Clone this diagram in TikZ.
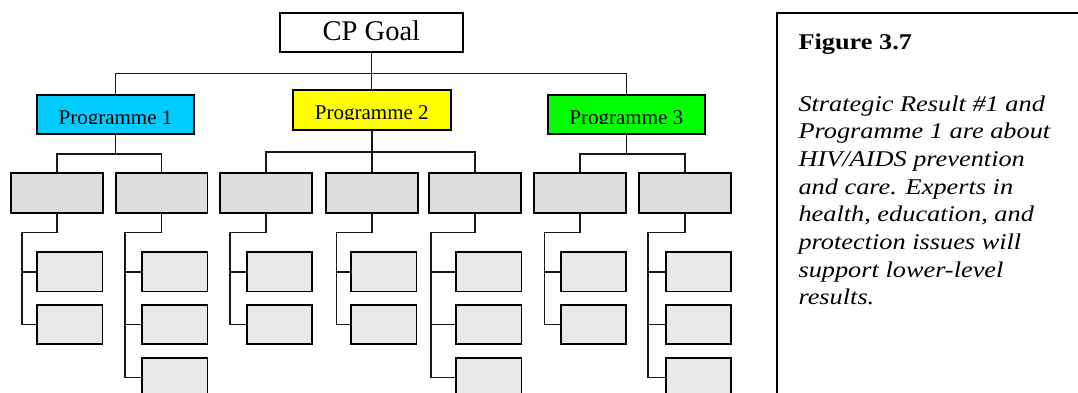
\documentclass[tikz,border=0pt]{standalone}
\usepackage{fontspec}
\setmainfont{Liberation Serif}
\newfontfamily\notefont[FakeStretch=1.17]{Liberation Serif}
\usetikzlibrary{calc}
\definecolor{progblue}{HTML}{00CCFF}
\definecolor{progyellow}{HTML}{FFFF00}
\definecolor{proggreen}{HTML}{00FF00}
\definecolor{midgray}{HTML}{DDDDDD}
\definecolor{leafgray}{HTML}{E8E8E8}
\begin{document}
\begin{tikzpicture}[x=1pt,y=-1pt,
  box/.style={draw=black, line width=1.9pt, inner sep=0pt, outer sep=0pt, anchor=north west},
  midbox/.style={box, fill=midgray, minimum width=91.8pt, minimum height=40pt},
  leafbox/.style={box, fill=leafgray, minimum width=65.5pt, minimum height=39.5pt},
  progbox/.style={box, minimum height=39.3pt},
  link/.style={draw=black!90, line width=1.6pt},
  progtext/.style={font=\fontsize{21}{24}\selectfont, anchor=base, inner sep=0pt},
  noteline/.style={font=\notefont\itshape\fontsize{22.5}{27}\selectfont, anchor=base west, inner sep=0pt}]
\clip (0,0) rectangle (1078,392);

% goal and programme boxes
\node[box, minimum width=183.3pt, minimum height=39pt] (goal) at (280,13.3) {};
\node[font=\fontsize{28.5}{31}\selectfont, anchor=base, inner sep=0pt] (goaltxt) at (371.4,40.9) {CP Goal};

\node[progbox, fill=progblue,   minimum width=157pt]   (p1) at (37,95) {};
\node[progbox, fill=progyellow, minimum width=157.7pt] (p2) at (293,90.3) {};
\node[progbox, fill=proggreen,  minimum width=157.3pt] (p3) at (547.7,95) {};

\foreach \p/\t in {p1/Programme 1, p2/Programme 2, p3/Programme 3}{
  \begin{scope}
    \clip (\p.north west) rectangle ($(\p.north east)+(0,28.8)$);
    \node[progtext] (\p txt) at ($(\p.north)+(0,29.3)$) {\t};
  \end{scope}
}

% goal to programmes
\coordinate (topbar) at (0,73.3);
\draw[link] (goal.south) -- (goal.south |- p2.north);
\draw[link] (p1.north) -- (p1.north |- topbar) -- (p3.north |- topbar) -- (p3.north);

% result boxes with their sub-results
\foreach \i/\bx/\sx/\cx/\n in {1/11/22/37/2, 2/115.7/124.7/142/3, 3/220.3/230/246.7/2,
    4/325.9/336.3/351/2, 5/429.3/431/456/3, 6/534.3/544.3/560.7/2, 7/639/648/665.7/3}{
  \node[midbox] (b\i) at (\bx,173.3) {};
  \coordinate (s\i) at (\sx,232.3);
  \draw[link] (b\i.south) -- (b\i.south |- s\i) -- (s\i);
  \foreach \r in {1,...,\n}{
    \pgfmathsetmacro\ry{252+(\r-1)*52.85}
    \node[leafbox] (c\i-\r) at (\cx,\ry) {};
    \draw[link] (s\i) |- (c\i-\r.west);
  }
}

% programmes to results
\draw[link] (p1.south) -- ++(0,19.7) -| (b1.north);
\draw[link] (p1.south) -- ++(0,19.7) -| (b2.north);
\draw[link] (p2.south) -- ++(0,22.4) -| (b3.north);
\draw[link] (p2.south) -- (p2.south |- b4.north);
\draw[link] (p2.south) -- ++(0,22.4) -| (b5.north);
\draw[link] (p3.south) -- ++(0,19.7) -| (b6.north);
\draw[link] (p3.south) -- ++(0,19.7) -| (b7.north);

% side note
\node[box, minimum width=320pt, minimum height=400pt] (note) at (777.3,12.7) {};
\node[font=\notefont\bfseries\fontsize{22.5}{27}\selectfont, anchor=base west, inner sep=0pt]
  (notetitle) at (798.3,49.3) {Figure 3.7};
\foreach \k/\line in {0/Strategic Result \#1 and, 1/Programme 1 are about,
    2/HIV\slash AIDS prevention, 3/and care. Experts in, 4/{health, education, and},
    5/protection issues will, 6/support lower-level, 7/results.}{
  \node[noteline] (note\k) at (798.3,111+27.7*\k) {\line};
}
\end{tikzpicture}
\end{document}
